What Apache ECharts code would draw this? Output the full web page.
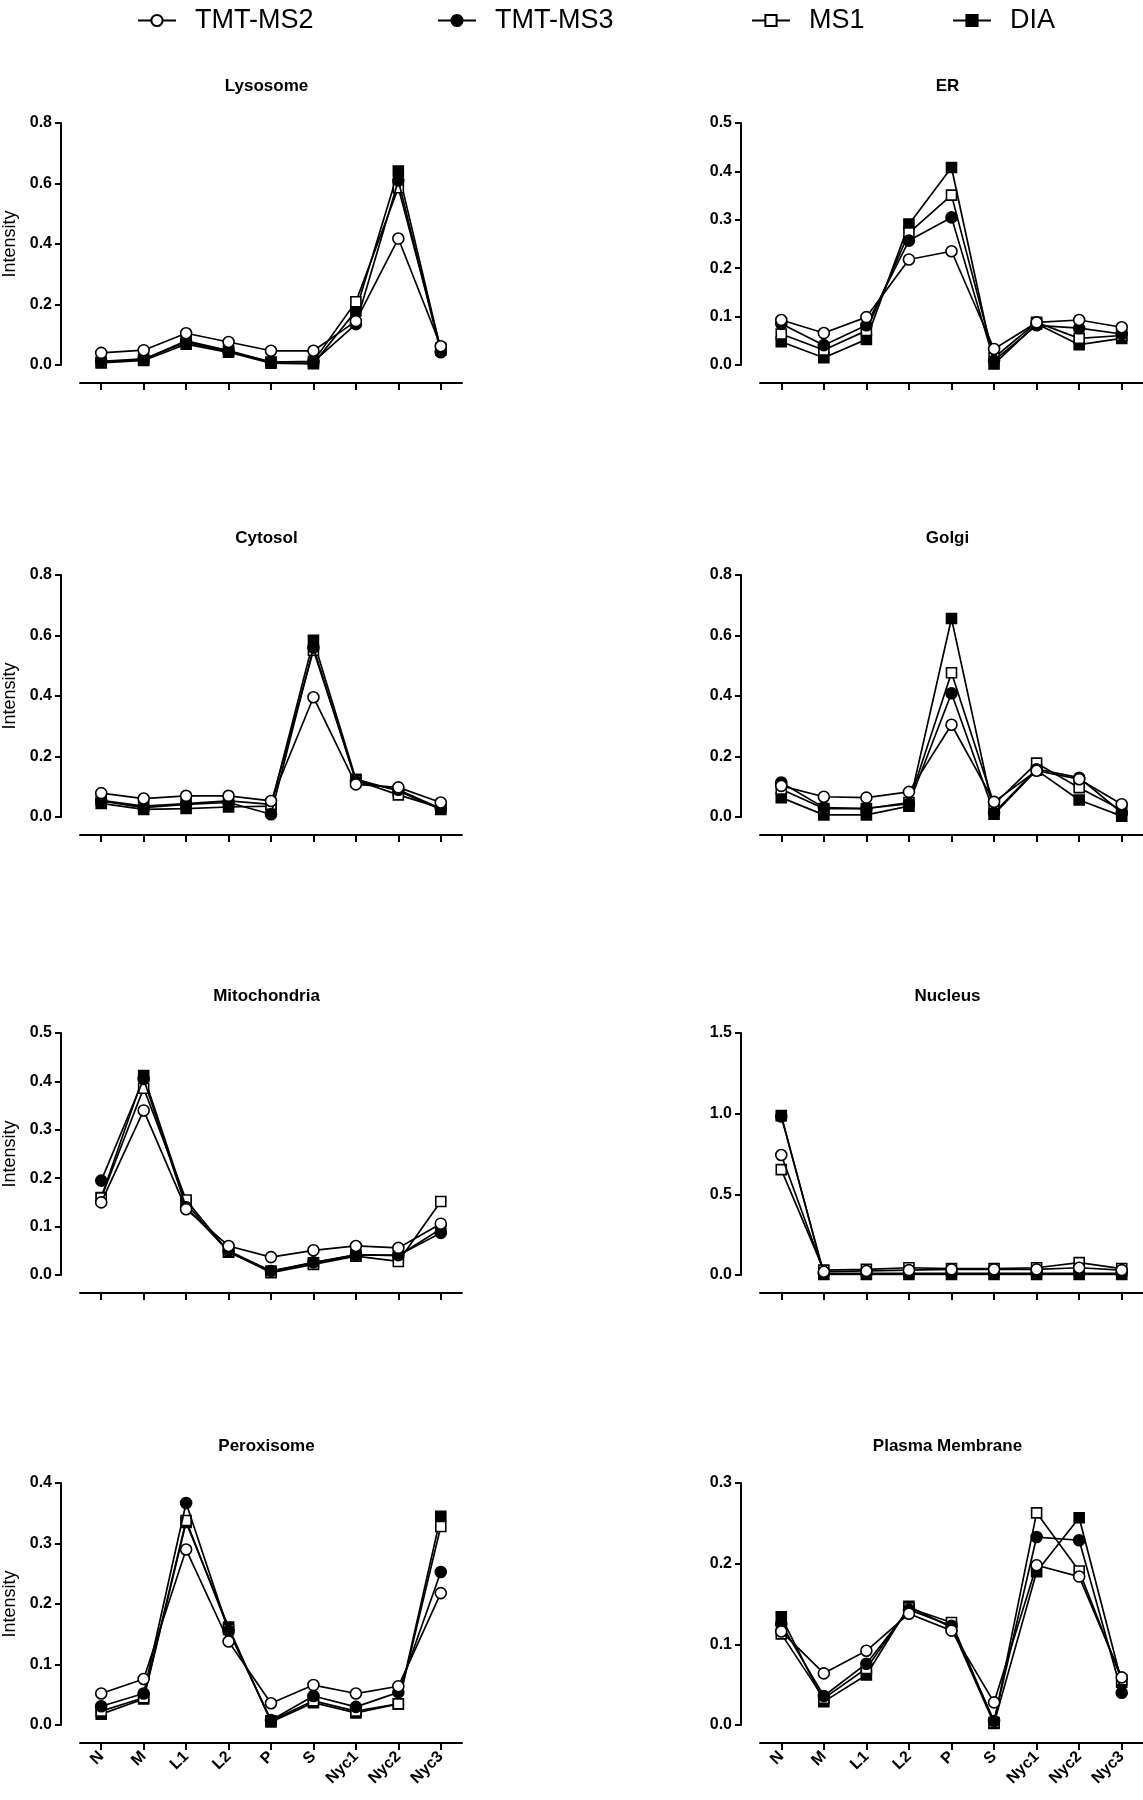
<!DOCTYPE html>
<html>
<head>
<meta charset="utf-8">
<script src="https://cdn.jsdelivr.net/npm/echarts@6/dist/echarts.min.js"></script>
<style>
  html, body { margin: 0; padding: 0; background: #fff; }
  #chart { width: 1143px; height: 1800px; }
</style>
</head>
<body>
<div id="chart"></div>
<script>
const fractions = ["N", "M", "L1", "L2", "P", "S", "Nyc1", "Nyc2", "Nyc3"];
const methods = ["TMT-MS2", "TMT-MS3", "MS1", "DIA"];

// each panel: [TMT-MS2, TMT-MS3, MS1, DIA]
const lysosome = [
  [0.040, 0.049, 0.105, 0.076, 0.047, 0.047, 0.145, 0.418, 0.062],
  [0.012, 0.020, 0.075, 0.045, 0.010, 0.010, 0.135, 0.610, 0.042],
  [0.010, 0.018, 0.080, 0.048, 0.010, 0.012, 0.209, 0.586, 0.055],
  [0.007, 0.015, 0.069, 0.042, 0.006, 0.004, 0.179, 0.641, 0.050]
];
const er = [
  [0.093, 0.066, 0.099, 0.218, 0.235, 0.033, 0.088, 0.093, 0.078],
  [0.085, 0.041, 0.082, 0.257, 0.305, 0.009, 0.082, 0.076, 0.064],
  [0.064, 0.031, 0.071, 0.273, 0.351, 0.015, 0.088, 0.055, 0.061],
  [0.048, 0.015, 0.053, 0.291, 0.408, 0.002, 0.085, 0.042, 0.055]
];
const cytosol = [
  [0.079, 0.061, 0.070, 0.070, 0.053, 0.396, 0.108, 0.098, 0.048],
  [0.053, 0.031, 0.042, 0.048, 0.009, 0.560, 0.118, 0.090, 0.028],
  [0.055, 0.036, 0.044, 0.053, 0.042, 0.551, 0.122, 0.073, 0.030],
  [0.045, 0.025, 0.028, 0.033, 0.036, 0.584, 0.125, 0.086, 0.025]
];
const golgi = [
  [0.103, 0.067, 0.064, 0.083, 0.305, 0.050, 0.153, 0.125, 0.042],
  [0.114, 0.031, 0.028, 0.044, 0.409, 0.014, 0.158, 0.130, 0.014],
  [0.092, 0.028, 0.028, 0.048, 0.477, 0.042, 0.178, 0.097, 0.023],
  [0.064, 0.007, 0.007, 0.036, 0.656, 0.009, 0.155, 0.056, 0.003]
];
const mitochondria = [
  [0.150, 0.340, 0.136, 0.060, 0.037, 0.051, 0.060, 0.056, 0.106],
  [0.195, 0.405, 0.140, 0.050, 0.008, 0.026, 0.041, 0.041, 0.087],
  [0.159, 0.386, 0.155, 0.048, 0.005, 0.022, 0.039, 0.028, 0.152],
  [0.160, 0.412, 0.148, 0.047, 0.008, 0.025, 0.042, 0.040, 0.095]
];
const nucleus = [
  [0.744, 0.020, 0.025, 0.030, 0.035, 0.035, 0.035, 0.045, 0.030],
  [0.982, 0.010, 0.010, 0.010, 0.010, 0.010, 0.010, 0.010, 0.010],
  [0.653, 0.030, 0.035, 0.045, 0.040, 0.040, 0.045, 0.077, 0.040],
  [0.988, 0.003, 0.003, 0.003, 0.003, 0.003, 0.003, 0.003, 0.003]
];
const peroxisome = [
  [0.052, 0.076, 0.290, 0.138, 0.036, 0.066, 0.052, 0.064, 0.218],
  [0.031, 0.052, 0.367, 0.156, 0.008, 0.048, 0.030, 0.054, 0.253],
  [0.023, 0.045, 0.338, 0.158, 0.007, 0.040, 0.023, 0.035, 0.328],
  [0.018, 0.043, 0.335, 0.162, 0.005, 0.037, 0.020, 0.035, 0.345]
];
const plasmaMembrane = [
  [0.116, 0.064, 0.092, 0.138, 0.117, 0.028, 0.198, 0.184, 0.059],
  [0.125, 0.036, 0.076, 0.143, 0.123, 0.005, 0.233, 0.229, 0.040],
  [0.113, 0.033, 0.070, 0.145, 0.127, 0.003, 0.263, 0.191, 0.056],
  [0.134, 0.029, 0.062, 0.147, 0.121, 0.002, 0.190, 0.257, 0.053]
];

const panelTitles = ["Lysosome", "ER", "Cytosol", "Golgi", "Mitochondria", "Nucleus", "Peroxisome", "Plasma Membrane"];
const panelData = [lysosome, er, cytosol, golgi, mitochondria, nucleus, peroxisome, plasmaMembrane];
const yMax = [0.8, 0.5, 0.8, 0.8, 0.5, 1.5, 0.4, 0.3];
const yStep = [0.2, 0.1, 0.2, 0.2, 0.1, 0.5, 0.1, 0.1];

const font = "Liberation Sans, Arial, sans-serif";
const colLeft = [79, 760];
const plotWidth = 383;
const rowTop = [123, 575, 1033, 1483];
const plotHeight = 242;

const markers = [
  { symbol: "circle", size: 11, fill: "#fff" },
  { symbol: "circle", size: 11, fill: "#000" },
  { symbol: "rect", size: 10, fill: "#fff" },
  { symbol: "rect", size: 10, fill: "#000" }
];
// drawing order, bottom first
const drawOrder = [3, 2, 1, 0];

const grid = [], xAxis = [], yAxis = [], title = [], series = [];

panelData.forEach((panel, i) => {
  const col = i % 2;
  const row = Math.floor(i / 2);
  const left = colLeft[col];
  const top = rowTop[row];

  grid.push({ left: left, top: top, width: plotWidth, height: plotHeight });

  title.push({
    text: panelTitles[i],
    left: left - 18 + (plotWidth + 18) / 2,
    top: top - 50,
    textAlign: "center",
    textStyle: { fontFamily: font, fontSize: 17, fontWeight: "bold", color: "#000" }
  });

  xAxis.push({
    type: "category",
    gridIndex: i,
    data: fractions,
    offset: 18,
    axisLine: { onZero: false, lineStyle: { color: "#000", width: 2 } },
    axisTick: { show: true, interval: 0, alignWithLabel: true, length: 7, lineStyle: { color: "#000", width: 2 } },
    axisLabel: {
      show: row === 3,
      rotate: 45,
      margin: 11,
      interval: 0,
      fontFamily: font,
      fontSize: 16,
      fontWeight: "bold",
      color: "#000"
    }
  });

  yAxis.push({
    type: "value",
    gridIndex: i,
    min: 0,
    max: yMax[i],
    interval: yStep[i],
    offset: 19,
    name: col === 0 ? "Intensity" : "",
    nameLocation: "middle",
    nameRotate: 90,
    nameGap: 42,
    nameTextStyle: { fontFamily: font, fontSize: 18, color: "#000" },
    splitLine: { show: false },
    axisLine: { show: true, onZero: false, lineStyle: { color: "#000", width: 2 } },
    axisTick: { show: true, length: 6, lineStyle: { color: "#000", width: 2 } },
    axisLabel: {
      margin: 9,
      fontFamily: font,
      fontSize: 16,
      fontWeight: "bold",
      color: "#000",
      formatter: (v) => v.toFixed(1)
    }
  });

  drawOrder.forEach((m, k) => {
    series.push({
      name: methods[m],
      type: "line",
      xAxisIndex: i,
      yAxisIndex: i,
      data: panel[m],
      z: 2 + k,
      symbol: markers[m].symbol,
      symbolSize: markers[m].size,
      showAllSymbol: true,
      animation: false,
      lineStyle: { color: "#000", width: 1.7 },
      itemStyle: { color: markers[m].fill, borderColor: "#000", borderWidth: 1.6 },
      emphasis: { disabled: true }
    });
  });
});

const legendLeft = [132, 432, 746, 947];
const legend = methods.map((name, i) => ({
  data: [name],
  left: legendLeft[i],
  top: 2,
  itemWidth: 38,
  itemHeight: 14,
  selectedMode: false,
  textStyle: { fontFamily: font, fontSize: 27, color: "#000", padding: [0, 0, 0, 14] }
}));

const chart = echarts.init(document.getElementById("chart"), null, { renderer: "canvas" });
chart.setOption({
  backgroundColor: "#fff",
  animation: false,
  title: title,
  legend: legend,
  grid: grid,
  xAxis: xAxis,
  yAxis: yAxis,
  series: series
});
</script>
</body>
</html>
